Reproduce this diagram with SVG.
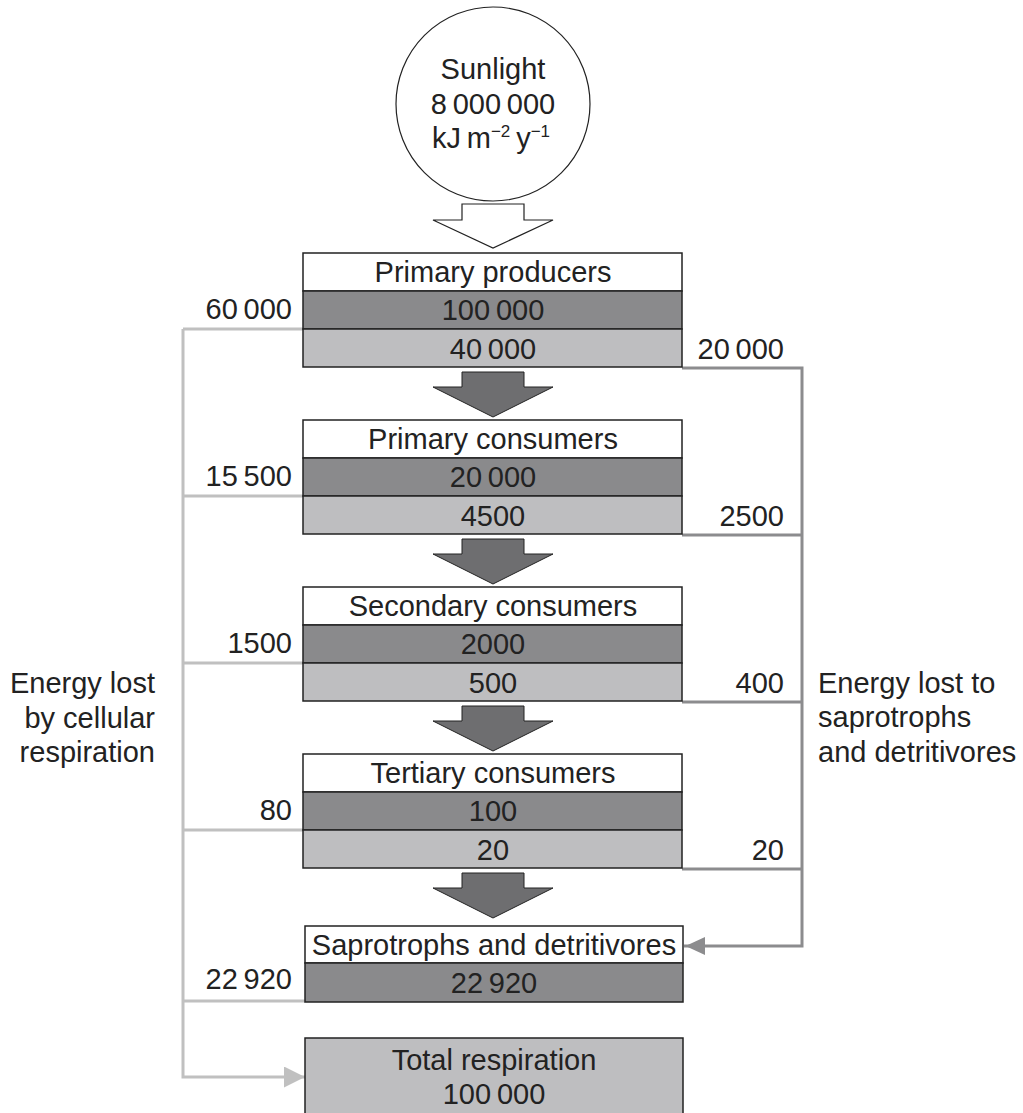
<svg xmlns="http://www.w3.org/2000/svg" width="1023" height="1113" viewBox="0 0 1023 1113">
<style>
text{font-family:"Liberation Sans",Arial,sans-serif;font-size:29px;fill:#222}
.c{text-anchor:middle}
.r{text-anchor:end}
.w{fill:#fff;stroke:#222;stroke-width:1.5}
.d{fill:#8a8a8c;stroke:#222;stroke-width:1.5}
.l{fill:#bebec0;stroke:#222;stroke-width:1.5}
.ga{fill:#6e6e70;stroke:#222;stroke-width:1}
.lc{fill:none;stroke:#c0c0c0;stroke-width:3}
.rc{fill:none;stroke:#8c8c8e;stroke-width:3}
</style>
<defs>
<marker id="ah1" markerWidth="7" markerHeight="7" refX="7" refY="3.5" orient="auto" markerUnits="strokeWidth"><path d="M0,0 L7,3.5 L0,7 Z" fill="#c0c0c0"/></marker>
<marker id="ah2" markerWidth="7" markerHeight="7" refX="7" refY="3.5" orient="auto" markerUnits="strokeWidth"><path d="M0,0.5 L6.5,3.5 L0,6.5 Z" fill="#8c8c8e"/></marker>
</defs>

<g id="connectors">
<polyline class="lc" points="183,329 183,1077 305,1077" marker-end="url(#ah1)"/>
<line class="lc" x1="183" y1="329" x2="303" y2="329"/>
<line class="lc" x1="183" y1="496" x2="303" y2="496"/>
<line class="lc" x1="183" y1="663" x2="303" y2="663"/>
<line class="lc" x1="183" y1="830" x2="303" y2="830"/>
<line class="lc" x1="183" y1="1001" x2="305" y2="1001"/>
<polyline class="rc" points="682,368 802,368 802,946 684,946" marker-end="url(#ah2)"/>
<line class="rc" x1="682" y1="535" x2="802" y2="535"/>
<line class="rc" x1="682" y1="702" x2="802" y2="702"/>
<line class="rc" x1="682" y1="869" x2="802" y2="869"/>
<polygon points="462,204 524,204 524,220 553,220 493,248 433,220 462,220" fill="#fff" stroke="#222" stroke-width="1.2"/>
<polygon class="ga" points="462,372 524,372 524,387 553,387 493,417 433,387 462,387"/>
<polygon class="ga" points="462,539 524,539 524,554 553,554 493,584 433,554 462,554"/>
<polygon class="ga" points="462,706 524,706 524,721 553,721 493,751 433,721 462,721"/>
<polygon class="ga" points="462,873 524,873 524,888 553,888 493,918 433,888 462,888"/>
</g>

<g id="sunlight">
<circle cx="493" cy="104" r="97" fill="#fff" stroke="#222" stroke-width="1.2"/>
<text class="c" x="493" y="79">Sunlight</text>
<text class="c" x="493" y="114">8&#8201;000&#8201;000</text>
<text class="c" x="491" y="148">kJ&#8201;m<tspan font-size="17" dy="-11">−2</tspan><tspan dy="11">&#8201;y</tspan><tspan font-size="17" dy="-11">−1</tspan></text>
</g>

<g id="primary-producers">
<rect class="w" x="303" y="253" width="379" height="38"/>
<rect class="d" x="303" y="291" width="379" height="38"/>
<rect class="l" x="303" y="329" width="379" height="38"/>
<text class="c" x="493" y="282">Primary producers</text>
<text class="c" x="493" y="320">100&#8201;000</text>
<text class="c" x="493" y="359">40&#8201;000</text>
<text class="r" x="292" y="319">60&#8201;000</text>
<text class="r" x="784" y="359">20&#8201;000</text>
</g>

<g id="primary-consumers">
<rect class="w" x="303" y="420" width="379" height="38"/>
<rect class="d" x="303" y="458" width="379" height="38"/>
<rect class="l" x="303" y="496" width="379" height="38"/>
<text class="c" x="493" y="449">Primary consumers</text>
<text class="c" x="493" y="487">20&#8201;000</text>
<text class="c" x="493" y="526">4500</text>
<text class="r" x="292" y="486">15&#8201;500</text>
<text class="r" x="784" y="526">2500</text>
</g>

<g id="secondary-consumers">
<rect class="w" x="303" y="587" width="379" height="38"/>
<rect class="d" x="303" y="625" width="379" height="38"/>
<rect class="l" x="303" y="663" width="379" height="38"/>
<text class="c" x="493" y="616">Secondary consumers</text>
<text class="c" x="493" y="654">2000</text>
<text class="c" x="493" y="693">500</text>
<text class="r" x="292" y="653">1500</text>
<text class="r" x="784" y="693">400</text>
</g>

<g id="tertiary-consumers">
<rect class="w" x="303" y="754" width="379" height="38"/>
<rect class="d" x="303" y="792" width="379" height="38"/>
<rect class="l" x="303" y="830" width="379" height="38"/>
<text class="c" x="493" y="783">Tertiary consumers</text>
<text class="c" x="493" y="821">100</text>
<text class="c" x="493" y="860">20</text>
<text class="r" x="292" y="820">80</text>
<text class="r" x="784" y="860">20</text>
</g>

<g id="saprotrophs">
<rect class="w" x="305" y="926" width="378" height="37"/>
<rect class="d" x="305" y="963" width="378" height="39"/>
<text class="c" x="494" y="955">Saprotrophs and detritivores</text>
<text class="c" x="494" y="993">22&#8201;920</text>
<text class="r" x="292" y="989">22&#8201;920</text>
</g>

<g id="total-respiration">
<rect class="l" x="305" y="1038" width="378" height="90"/>
<text class="c" x="494" y="1070">Total respiration</text>
<text class="c" x="494" y="1104">100&#8201;000</text>
</g>

<g id="label-left">
<text class="r" x="155" y="693">Energy lost</text>
<text class="r" x="155" y="728">by cellular</text>
<text class="r" x="155" y="762">respiration</text>
</g>

<g id="label-right">
<text x="818" y="693">Energy lost to</text>
<text x="818" y="727">saprotrophs</text>
<text x="818" y="762">and detritivores</text>
</g>
</svg>
